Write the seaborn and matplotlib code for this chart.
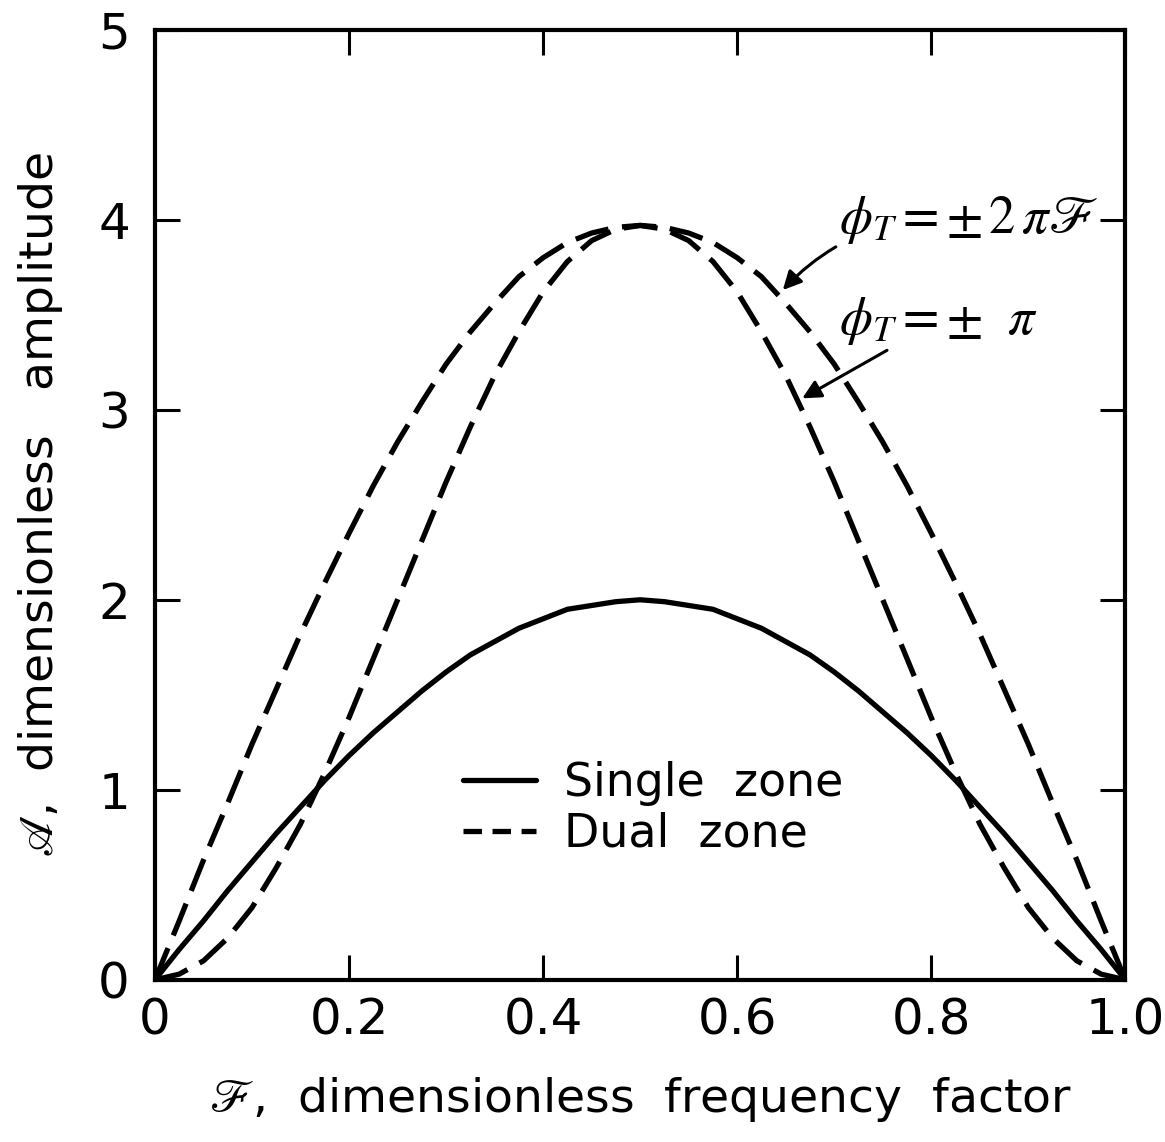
import numpy as np
import pandas as pd
import matplotlib
matplotlib.use("Agg")
import matplotlib.pyplot as plt
from matplotlib.lines import Line2D
import seaborn as sns

# ---- data ----
F = [0.0, 0.025, 0.05, 0.075, 0.10, 0.125, 0.15, 0.175, 0.20, 0.225, 0.25,
     0.275, 0.30, 0.325, 0.35, 0.375, 0.40, 0.425, 0.45, 0.475, 0.50,
     0.525, 0.55, 0.575, 0.60, 0.625, 0.65, 0.675, 0.70, 0.725, 0.75,
     0.775, 0.80, 0.825, 0.85, 0.875, 0.90, 0.925, 0.95, 0.975, 1.0]
single_zone = [0.0, 0.16, 0.31, 0.47, 0.62, 0.77, 0.91, 1.05, 1.18, 1.30, 1.41,
               1.52, 1.62, 1.71, 1.78, 1.85, 1.90, 1.95, 1.97, 1.99, 2.0,
               1.99, 1.97, 1.95, 1.90, 1.85, 1.78, 1.71, 1.62, 1.52, 1.41,
               1.30, 1.18, 1.05, 0.91, 0.77, 0.62, 0.47, 0.31, 0.16, 0.0]
dual_2piF = [0.0, 0.31, 0.63, 0.93, 1.24, 1.53, 1.82, 2.09, 2.35, 2.60, 2.83,
             3.04, 3.24, 3.41, 3.56, 3.70, 3.80, 3.88, 3.93, 3.96, 3.97,
             3.96, 3.93, 3.88, 3.80, 3.70, 3.56, 3.41, 3.24, 3.04, 2.83,
             2.60, 2.35, 2.09, 1.82, 1.53, 1.24, 0.93, 0.63, 0.31, 0.0]
dual_pi = [0.0, 0.03, 0.10, 0.22, 0.38, 0.59, 0.82, 1.09, 1.38, 1.69, 2.0,
           2.31, 2.62, 2.91, 3.18, 3.41, 3.62, 3.78, 3.89, 3.95, 3.97,
           3.95, 3.89, 3.78, 3.62, 3.41, 3.18, 2.91, 2.62, 2.31, 2.0,
           1.69, 1.38, 1.09, 0.82, 0.59, 0.38, 0.22, 0.10, 0.03, 0.0]

x_ticks = [0, 0.2, 0.4, 0.6, 0.8, 1.0]
x_ticklabels = ["0", "0.2", "0.4", "0.6", "0.8", "1.0"]
y_ticks = [0, 1, 2, 3, 4, 5]
y_ticklabels = ["0", "1", "2", "3", "4", "5"]

sns.set_style("ticks")
plt.rcParams["font.family"] = ["DejaVu Sans"]
plt.rcParams["mathtext.fontset"] = "stix"
plt.rcParams["text.color"] = "black"
plt.rcParams["axes.labelcolor"] = "black"
plt.rcParams["xtick.color"] = "black"
plt.rcParams["ytick.color"] = "black"
plt.rcParams["axes.edgecolor"] = "black"

fig = plt.figure(figsize=(11.65, 11.42), dpi=100)
ax = fig.add_axes([0.133, 0.142, 0.833, 0.832])

df = pd.DataFrame({"F": F, "single": single_zone, "d2": dual_2piF, "dpi": dual_pi})
lw = 3.8
dash = (6.5, 2.6)
sns.lineplot(data=df, x="F", y="single", ax=ax, color="black", lw=lw)
sns.lineplot(data=df, x="F", y="d2", ax=ax, color="black", lw=lw)
sns.lineplot(data=df, x="F", y="dpi", ax=ax, color="black", lw=lw)
ax.lines[1].set_dashes(dash)
ax.lines[2].set_dashes(dash)

ax.set_xlim(0, 1.0)
ax.set_ylim(0, 5)
ax.set_xticks(x_ticks)
ax.set_xticklabels(x_ticklabels)
ax.set_yticks(y_ticks)
ax.set_yticklabels(y_ticklabels)
ax.tick_params(direction="in", length=18, width=2.2, labelsize=36,
               top=True, right=True)
ax.tick_params(axis="x", pad=12)
ax.tick_params(axis="y", pad=18)
for s in ax.spines.values():
    s.set_linewidth(3)
    s.set_visible(True)

ax.set_xlabel(r"$\mathscr{F}$,  dimensionless  frequency  factor", fontsize=34, labelpad=22)
ax.set_ylabel(r"$\mathscr{A}$,  dimensionless   amplitude", fontsize=34, labelpad=24)

# annotations
ax.annotate(r"$\phi_T = \pm\, 2\,\pi \mathscr{F}$", xy=(0.647, 3.63), xytext=(0.705, 3.86),
            fontsize=38, ha="left", va="bottom",
            arrowprops=dict(arrowstyle="-|>", color="black", lw=2.2,
                            connectionstyle="arc3,rad=0.25", mutation_scale=28,
                            shrinkA=0, shrinkB=0))
ax.annotate(r"$\phi_T = \pm\ \ \pi$", xy=(0.667, 3.06), xytext=(0.705, 3.33),
            fontsize=38, ha="left", va="bottom",
            arrowprops=dict(arrowstyle="-|>", color="black", lw=2.2,
                            mutation_scale=28, shrinkA=0, shrinkB=0))

handles = [Line2D([], [], color="black", lw=lw),
           Line2D([], [], color="black", lw=lw, dashes=(3.5, 2.0))]
ax.legend(handles, ["Single  zone", "Dual  zone"], loc="center left",
          bbox_to_anchor=(0.275, 0.18), frameon=False, fontsize=33,
          handlelength=1.6, handletextpad=0.6, labelspacing=0.12)

fig.savefig("out.png", dpi=100)
